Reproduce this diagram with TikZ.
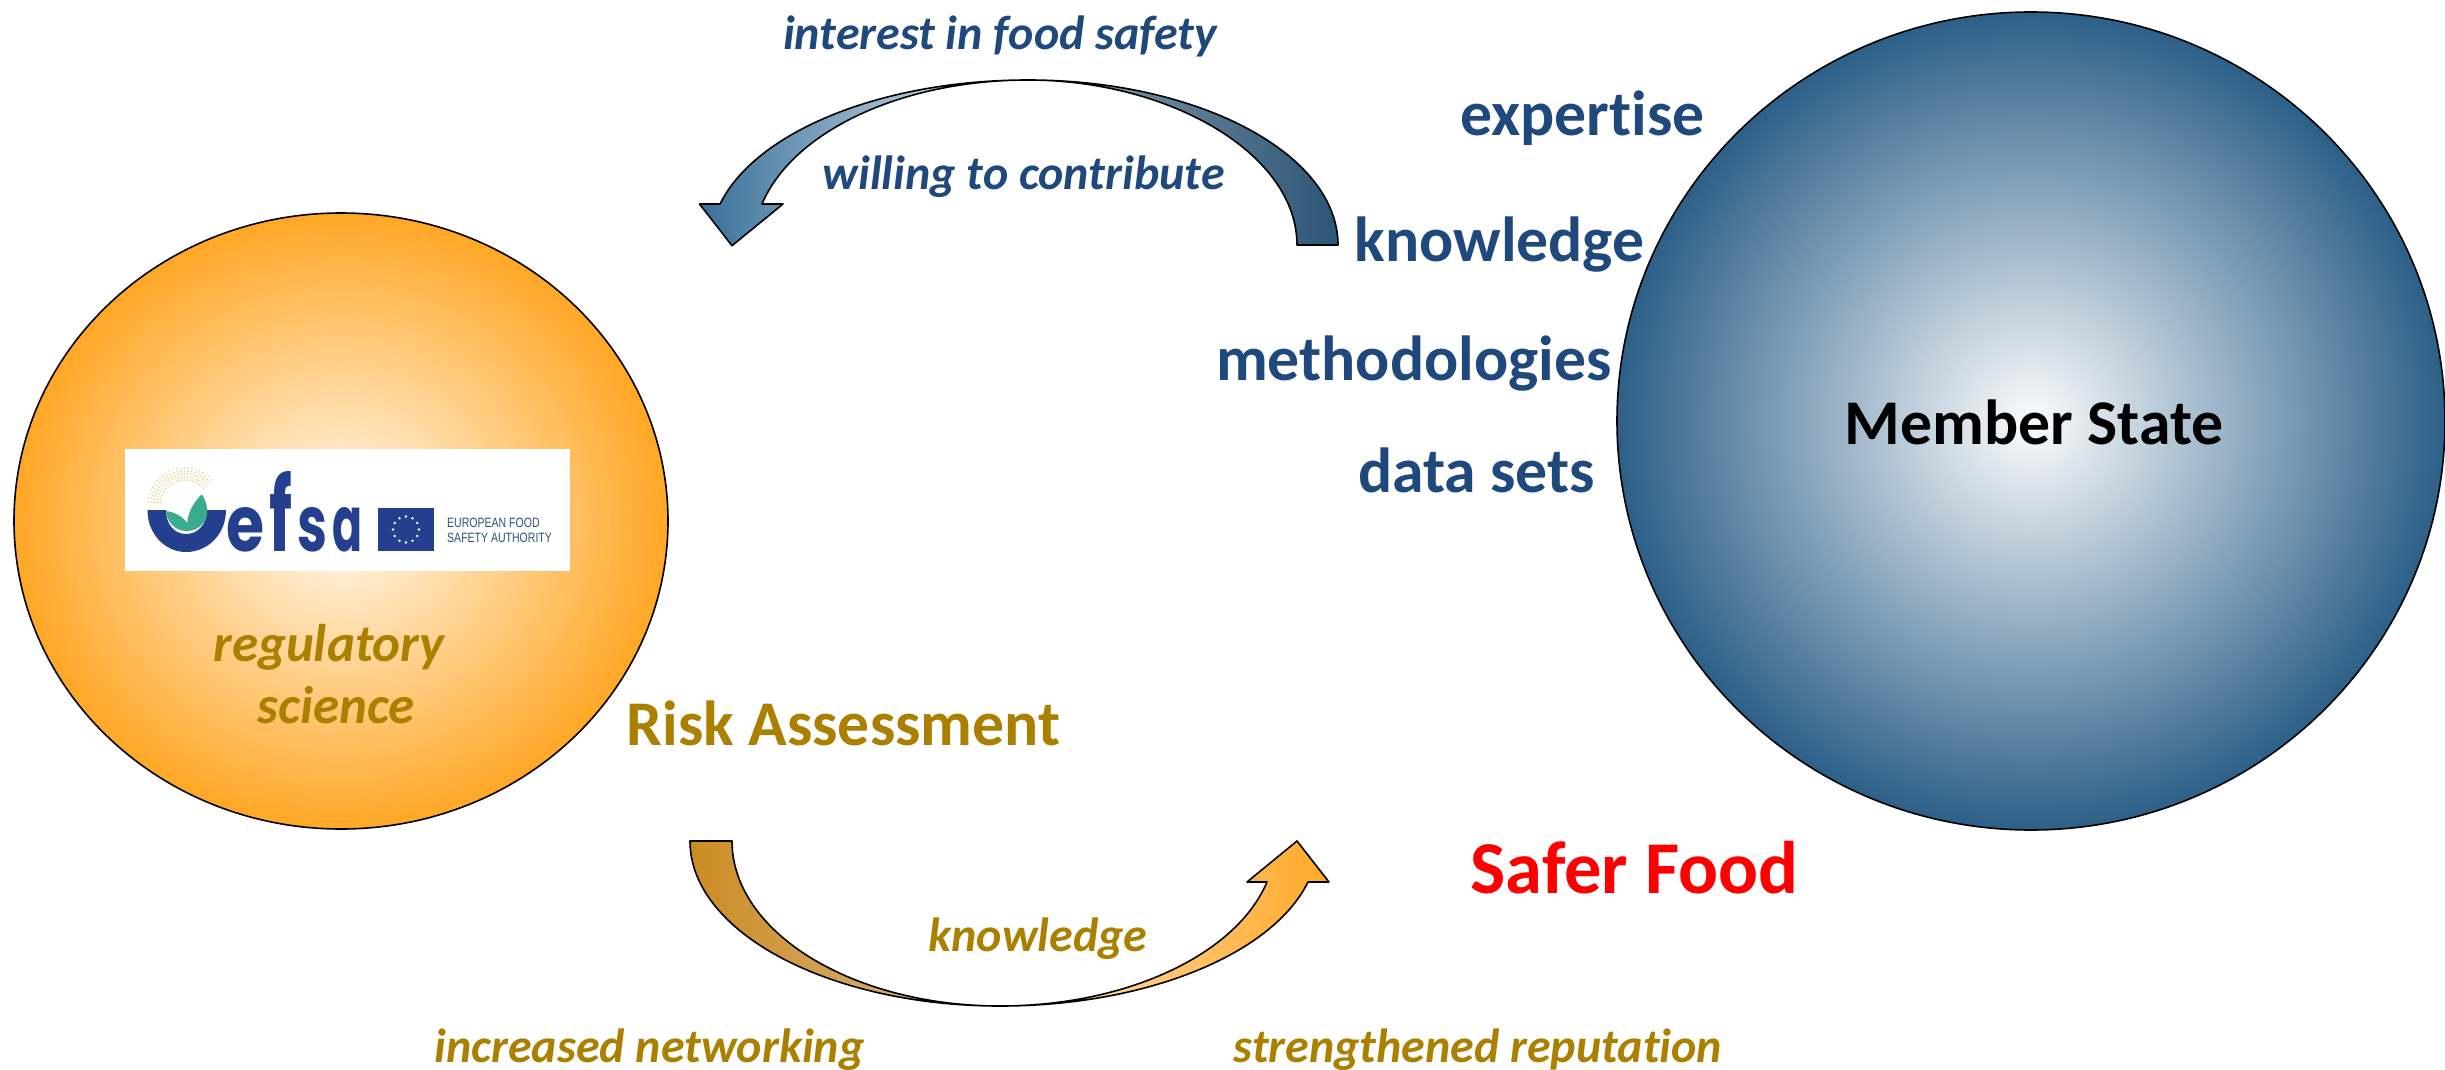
\documentclass[tikz,border=0pt]{standalone}
\usepackage{fontspec}
\setmainfont[Ligatures=NoCommon]{Carlito}
\newfontfamily\logofont{Poppins}
\newfontfamily\logosub{Liberation Sans}
\definecolor{txtblue}{HTML}{1F497D}
\definecolor{txtgold}{HTML}{AB7F00}
\definecolor{logoblue}{HTML}{233F8E}
\definecolor{logogreen}{HTML}{3AAB8C}
\definecolor{logogold}{HTML}{EAD48C}
\definecolor{orgin}{HTML}{FFFAF2}
\definecolor{orgout}{HTML}{FFA726}
\definecolor{bluin}{HTML}{FBFCFD}
\definecolor{bluout}{HTML}{2D6088}
\pgfdeclarehorizontalshading{bluearrow}{100bp}{
  rgb(0bp)=(0.227,0.439,0.6);
  rgb(25bp)=(0.227,0.439,0.6);
  rgb(43bp)=(0.71,0.796,0.859);
  rgb(47bp)=(0.627,0.686,0.737);
  rgb(75bp)=(0.169,0.337,0.463);
  rgb(100bp)=(0.169,0.337,0.463)}
\pgfdeclarehorizontalshading{goldarrow}{100bp}{
  rgb(0bp)=(0.804,0.549,0.133);
  rgb(25bp)=(0.804,0.549,0.133);
  rgb(47.7bp)=(0.831,0.722,0.549);
  rgb(51bp)=(1,0.886,0.722);
  rgb(75bp)=(1,0.659,0.149);
  rgb(100bp)=(1,0.659,0.149)}
\tikzset{
  x=1pt,y=-1pt,
  outl/.style={draw=black,line width=1.6pt,line join=round},
  word/.style={anchor=base,inner sep=0pt,font=\fontsize{63.7}{66}\selectfont\bfseries},
  slant/.style={anchor=base,inner sep=0pt,font=\fontsize{48}{50}\selectfont\bfseries\itshape},
  bluew/.style={text=txtblue},
  goldw/.style={text=txtgold},
  star12/.style={circle,fill=white,inner sep=0pt,minimum size=2.6pt},
  logosubst/.style={anchor=base west,inner sep=0pt,text=txtblue!85!gray,font=\fontsize{13.5}{15}\selectfont\logosub},
}
\begin{document}
\begin{tikzpicture}
\useasboundingbox (0,0) rectangle (2445,1070);
% big circles
\path[outl,inner color=orgin,outer color=orgout] (341,521) ellipse [x radius=327,y radius=308];
\path[outl,inner color=bluin,outer color=bluout] (2031,421) ellipse [x radius=414,y radius=409];
% logo
\node[fill=white,minimum width=445pt,minimum height=122pt,inner sep=0pt] (logobox) at (347.5,510) {};
\foreach \r in {25,28,31,34,37}{
  \foreach \a in {43,49,...,180}{
    \fill[logogold] ({185+\r*cos(\a)},{505-\r*sin(\a)}) circle [radius=0.9];
  }
}
\fill[logoblue] (147.5,510) .. controls (147.5,534) and (165,552) .. (186,552) .. controls (208,552) and (226,534) .. (226,510) -- (207,510) .. controls (207,524) and (198,534) .. (186,534) .. controls (174,534) and (166,524) .. (166,510) -- cycle;
\fill[logogreen] (166,511) .. controls (175,512) and (183,517) .. (187.3,523) .. controls (188,512) and (194,502) .. (201.7,494.3) .. controls (208,503) and (209,515) .. (204,522) .. controls (199,529) and (193,531) .. (186.7,531) .. controls (175,531) and (167,522) .. (166,511) -- cycle;
\node[anchor=base west,inner sep=0pt,text=logoblue,font=\logofont\bfseries] (efsa) at (226.7,551) {\resizebox{38pt}{44pt}{e}\kern5pt\resizebox{23pt}{80pt}{f}\kern5pt\resizebox{30pt}{44pt}{s}\kern5pt\resizebox{30pt}{44pt}{a}};
\fill[logoblue] (378,508) rectangle (434,551);
\foreach \a in {0,30,...,330}{
  \node[star12] at ({406+13*cos(\a)},{529.5+13*sin(\a)}) {};
}
\node[logosubst] (eft1) at (447,527) {\scalebox{0.78}[1]{EUROPEAN FOOD}};
\node[logosubst] (eft2) at (447,542) {\scalebox{0.78}[1]{SAFETY AUTHORITY}};
% top arrow
\path[outl,shade,shading=bluearrow]
  (1338,245) .. controls (1338,154) and (1199,80) .. (1028,80)
  .. controls (883,80) and (756,131) .. (720,204)
  -- (699.5,204) -- (732,245.7) -- (783,204) -- (762,204)
  .. controls (793,131) and (902,80) .. (1028,80)
  .. controls (1170,80) and (1297,154) .. (1297,245) -- cycle;
% bottom arrow
\path[outl,shade,shading=goldarrow]
  (690,841) .. controls (690,932) and (829,1006) .. (1000,1006)
  .. controls (1145,1006) and (1272,955) .. (1308,882)
  -- (1329,882) -- (1297,841) -- (1247,882) -- (1267,882)
  .. controls (1236,955) and (1126,1006) .. (1000,1006)
  .. controls (852,1006) and (732,932) .. (732,841) -- cycle;
% words
\node[slant,bluew] (interest) at (1000,50) {interest in food safety};
\node[slant,bluew] (willing) at (1023.5,189.5) {willing to contribute};
\node[word,bluew] (expertise) at (1582.5,136) {expertise};
\node[word,bluew] (knowb) at (1499.5,261) {knowledge};
\node[word,bluew] (method) at (1414,380) {methodologies};
\node[word,bluew] (datas) at (1476.5,492) {data sets};
\node[word] (member) at (2034,444) {Member State};
\node[slant,goldw,font=\fontsize{53}{55}\selectfont\bfseries\itshape] (regul) at (329,661) {regulatory};
\node[slant,goldw,font=\fontsize{53}{55}\selectfont\bfseries\itshape] (science) at (336,723.5) {science};
\node[word,goldw] (risk) at (843.5,745) {Risk Assessment};
\node[word,text=red,font=\fontsize{74.5}{76}\selectfont\bfseries] (safer) at (1634.5,893.5) {Safer Food};
\node[slant,goldw] (knowi) at (1038,951) {knowledge};
\node[slant,goldw] (netw) at (649.5,1062.5) {increased networking};
\node[slant,goldw] (repu) at (1478,1062.5) {strengthened reputation};
\end{tikzpicture}
\end{document}
